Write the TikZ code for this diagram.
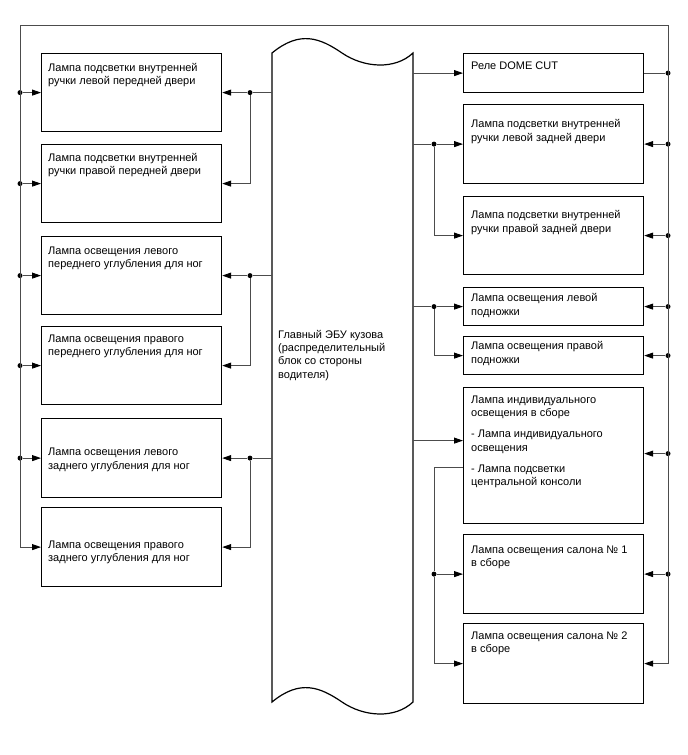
\documentclass[tikz,border=0pt]{standalone}
\usepackage{fontspec}
\setmainfont{Liberation Sans}
\usetikzlibrary{positioning,calc,arrows.meta}

\begin{document}
\begin{tikzpicture}[x=1pt,y=-1pt,>={Triangle[length=9pt,width=6pt,color=black]}]
\tikzset{
  lamp/.style={rectangle, draw, line width=1.2pt, minimum width=180pt, inner sep=0pt, anchor=north west},
  txt/.style={anchor=north west, align=left, inner sep=0pt, font=\fontsize{11}{13.3}\selectfont},
  wire/.style={draw=black!70, line width=0.9pt},
  dot/.style={circle, fill=black, inner sep=0pt, minimum size=5pt}
}
\useasboundingbox (0,0) rectangle (688,755);

% Body ECU (wavy block in the middle)
\draw[line width=1.2pt] (272,53) .. controls (300,30) and (320,38) .. (342,53)
  .. controls (364,68) and (395,70) .. (413,53) -- (413,702)
  .. controls (395,719) and (364,717) .. (342,702)
  .. controls (320,687) and (300,679) .. (272,702) -- cycle;
\node[minimum width=141pt, minimum height=649pt, inner sep=0pt, anchor=north west] (ecu) at (272,53) {};
\node[txt] (ecutxt) at (278,330) {Главный ЭБУ кузова\\(распределительный\\блок со стороны\\водителя)};

% Left lamps
\node[lamp, minimum height=78pt] (lfd) at (41,53) {};
\node[lamp, minimum height=78pt] (rfd) at (41,144) {};
\node[lamp, minimum height=78pt] (lff) at (41,236) {};
\node[lamp, minimum height=78pt] (rff) at (41,326) {};
\node[lamp, minimum height=79pt] (lrf) at (41,418) {};
\node[lamp, minimum height=79pt] (rrf) at (41,507) {};
\node[txt] at ([shift={(7,10)}]lfd.north west) {Лампа подсветки внутренней\\ручки левой передней двери};
\node[txt] at ([shift={(7,9)}]rfd.north west) {Лампа подсветки внутренней\\ручки правой передней двери};
\node[txt] at ([shift={(7,10.5)}]lff.north west) {Лампа освещения левого\\переднего углубления для ног};
\node[txt] at ([shift={(7,8.5)}]rff.north west) {Лампа освещения правого\\переднего углубления для ног};
\node[txt] at ([shift={(7,30)}]lrf.north west) {Лампа освещения левого\\заднего углубления для ног};
\node[txt] at ([shift={(7,33.5)}]rrf.north west) {Лампа освещения правого\\заднего углубления для ног};

% Right lamps
\node[lamp, minimum height=39pt] (dome) at (463,53) {};
\node[lamp, minimum height=79pt] (lrd) at (463,104) {};
\node[lamp, minimum height=78pt] (rrd) at (463,196) {};
\node[lamp, minimum height=38pt] (lst) at (463,287) {};
\node[lamp, minimum height=38pt] (rst) at (463,336) {};
\node[lamp, minimum height=136pt] (pers) at (463,387) {};
\node[lamp, minimum height=79pt] (room1) at (463,534) {};
\node[lamp, minimum height=80pt] (room2) at (463,623) {};
\node[txt] at ([shift={(8,8.5)}]dome.north west) {Реле DOME CUT};
\node[txt] at ([shift={(8,15.5)}]lrd.north west) {Лампа подсветки внутренней\\ручки левой задней двери};
\node[txt] at ([shift={(8,14.5)}]rrd.north west) {Лампа подсветки внутренней\\ручки правой задней двери};
\node[txt] at ([shift={(8,6.5)}]lst.north west) {Лампа освещения левой\\подножки};
\node[txt] at ([shift={(8,5.5)}]rst.north west) {Лампа освещения правой\\подножки};
\node[txt] at ([shift={(8,8.5)}]pers.north west) {Лампа индивидуального\\освещения в сборе\\[8pt]- Лампа индивидуального\\освещения\\[8pt]- Лампа подсветки\\центральной консоли};
\node[txt] at ([shift={(8,11.5)}]room1.north west) {Лампа освещения салона № 1\\в сборе};
\node[txt] at ([shift={(8,8.5)}]room2.north west) {Лампа освещения салона № 2\\в сборе};

% Outer loop (left bus, top, right bus)
\coordinate (tl) at (20,25);
\coordinate (tr) at (668,25);
\node[dot] (bl1) at (lfd.west -| tl) {};
\node[dot] (bl2) at (rfd.west -| tl) {};
\node[dot] (bl3) at (lff.west -| tl) {};
\node[dot] (bl4) at (rff.west -| tl) {};
\node[dot] (bl5) at (lrf.west -| tl) {};
\coordinate (bl6) at (rrf.west -| tl);
\node[dot] (br1) at (dome.east -| tr) {};
\node[dot] (br2) at (lrd.east -| tr) {};
\node[dot] (br3) at (rrd.east -| tr) {};
\node[dot] (br4) at (lst.east -| tr) {};
\node[dot] (br5) at (rst.east -| tr) {};
\node[dot] (br6) at ([yshift=2pt]pers.east -| tr) {};
\node[dot] (br7) at (room1.east -| tr) {};
\coordinate (br8) at (room2.east -| tr);
\draw[wire] (bl6) -- (tl) -- (tr) -- (br8);

\draw[wire,->] (bl1) -- (lfd);
\draw[wire,->] (bl2) -- (rfd);
\draw[wire,->] (bl3) -- (lff);
\draw[wire,->] (bl4) -- (rff);
\draw[wire,->] (bl5) -- (lrf);
\draw[wire,->] (bl6) -- (rrf);

\draw[wire] (dome) -- (br1);
\draw[wire,->] (br2) -- (lrd);
\draw[wire,->] (br3) -- (rrd);
\draw[wire,->] (br4) -- (lst);
\draw[wire,->] (br5) -- (rst);
\draw[wire,->] (br6) -- (br6 -| pers.east);
\draw[wire,->] (br7) -- (room1);
\draw[wire,->] (br8) -- (room2);

% ECU outputs, left side
\coordinate (lj) at (250,0);
\node[dot] (jl1) at (lfd.east -| lj) {};
\node[dot] (jl3) at (lff.east -| lj) {};
\node[dot] (jl5) at (lrf.east -| lj) {};
\draw[wire] (ecu.west |- jl1) -- (jl1);
\draw[wire] (ecu.west |- jl3) -- (jl3);
\draw[wire] (ecu.west |- jl5) -- (jl5);
\draw[wire,->] (jl1) -- (lfd);
\draw[wire,->] (jl1) |- (rfd);
\draw[wire,->] (jl3) -- (lff);
\draw[wire,->] (jl3) |- (rff);
\draw[wire,->] (jl5) -- (lrf);
\draw[wire,->] (jl5) |- (rrf);

% ECU outputs, right side
\coordinate (rj) at (434,0);
\coordinate (persin) at ([yshift=15pt]pers.west);
\coordinate (persout) at ([yshift=-12pt]pers.west);
\node[dot] (jr2) at (lrd.west -| rj) {};
\node[dot] (jr4) at (lst.west -| rj) {};
\node[dot] (jr7) at (room1.west -| rj) {};
\draw[wire,->] (ecu.east |- dome.west) -- (dome);
\draw[wire] (ecu.east |- jr2) -- (jr2);
\draw[wire,->] (jr2) -- (lrd);
\draw[wire,->] (jr2) |- (rrd);
\draw[wire] (ecu.east |- jr4) -- (jr4);
\draw[wire,->] (jr4) -- (lst);
\draw[wire,->] (jr4) |- (rst);
\draw[wire,->] (ecu.east |- persin) -- (persin);
\draw[wire] (persout) -| (jr7);
\draw[wire,->] (jr7) -- (room1);
\draw[wire,->] (jr7) |- (room2);
\end{tikzpicture}
\end{document}
